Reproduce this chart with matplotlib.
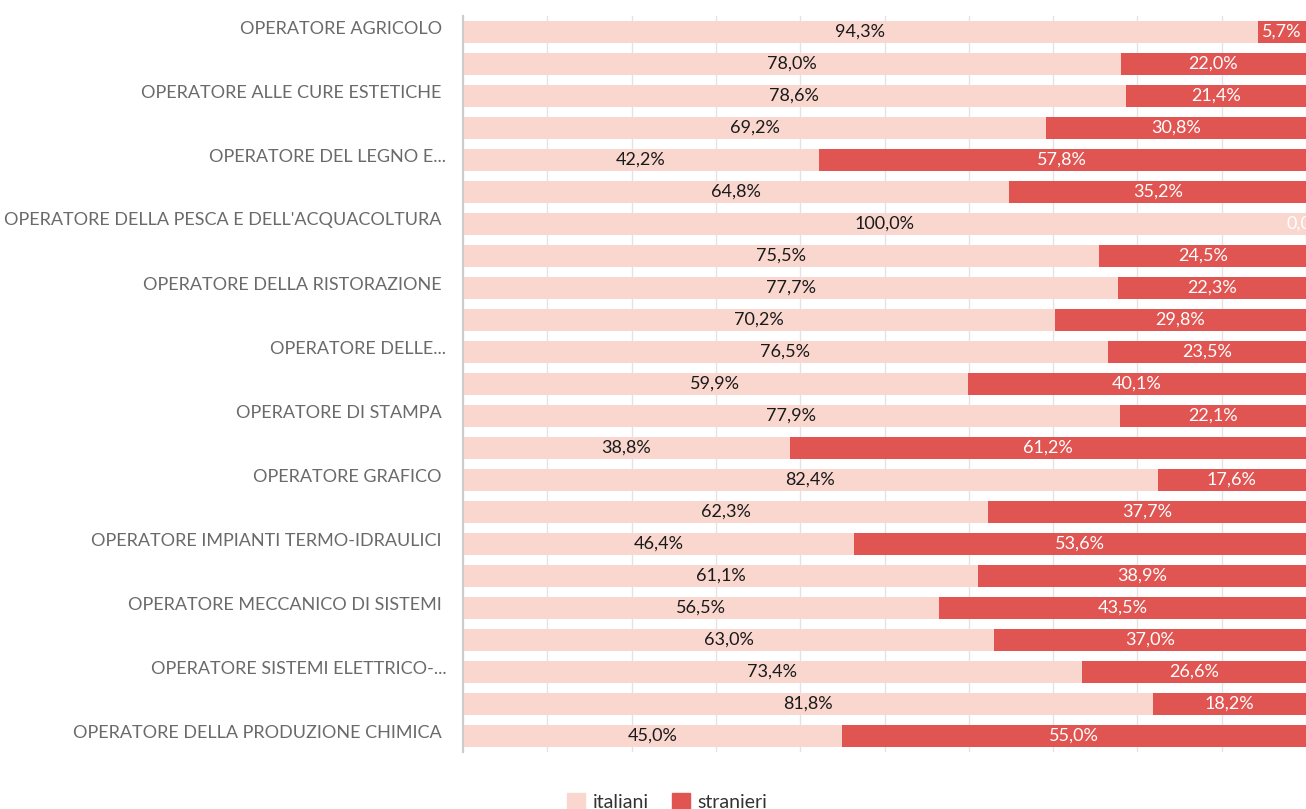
import numpy as np
import matplotlib.pyplot as plt
import matplotlib.transforms as mtransforms
from matplotlib.patches import Patch

# categories (only every other label is visible in the original chart)
categories = [
    "OPERATORE AGRICOLO ", "",
    "OPERATORE ALLE CURE ESTETICHE ", "",
    "OPERATORE DEL LEGNO E...", "",
    "OPERATORE DELLA PESCA E DELL'ACQUACOLTURA ", "",
    "OPERATORE DELLA RISTORAZIONE ", "",
    "OPERATORE DELLE...", "",
    "OPERATORE DI STAMPA ", "",
    "OPERATORE GRAFICO ", "",
    "OPERATORE IMPIANTI TERMO-IDRAULICI ", "",
    "OPERATORE MECCANICO DI SISTEMI ", "",
    "OPERATORE SISTEMI ELETTRICO-...", "",
    "OPERATORE DELLA PRODUZIONE CHIMICA ",
]

italiani = [94.3, 78.0, 78.6, 69.2, 42.2, 64.8, 100.0, 75.5, 77.7, 70.2, 76.5, 59.9,
            77.9, 38.8, 82.4, 62.3, 46.4, 61.1, 56.5, 63.0, 73.4, 81.8, 45.0]
stranieri = [5.7, 22.0, 21.4, 30.8, 57.8, 35.2, 0.0, 24.5, 22.3, 29.8, 23.5, 40.1,
             22.1, 61.2, 17.6, 37.7, 53.6, 38.9, 43.5, 37.0, 26.6, 18.2, 55.0]

series_names = ["italiani", "stranieri"]
col_it = "#F9D7CF"
col_st = "#E05451"

plt.rcParams['font.family'] = ['Lato', 'DejaVu Sans']

fig = plt.figure(figsize=(13.06, 8.09), dpi=100)
ax = fig.add_axes([463 / 1306, 1 - 752 / 809, 843 / 1306, 736 / 809])

y = np.arange(len(categories))
it = np.array(italiani)
st = np.array(stranieri)

ax.barh(y, it, height=0.66, color=col_it, zorder=2)
ax.barh(y, st, left=it, height=0.66, color=col_st, zorder=2)

def fmt(v):
    return ("%.1f%%" % v).replace(".", ",")

for i in range(len(y)):
    ax.text(it[i] / 2, y[i], fmt(it[i]), ha="center", va="center",
            fontsize=13, color="#1a1a1a", zorder=3)
    ax.text(it[i] + st[i] / 2, y[i], fmt(st[i]), ha="center", va="center",
            fontsize=13, color="white", zorder=3, clip_on=True)

ax.set_xlim(0, 100)
ax.set_ylim(len(categories) - 0.5, -0.5)
ax.set_xticks(np.arange(0, 101, 10))
ax.set_xticklabels([])
ax.tick_params(axis="x", length=0)
ax.grid(axis="x", color="#e3e3e3", linewidth=1, zorder=0)

ax.set_yticks(y)
ax.set_yticklabels(categories, fontsize=13, color="#6a6a6a")
ax.tick_params(axis="y", length=0, pad=12)
offset = mtransforms.ScaledTranslation(0, 5 / 100, fig.dpi_scale_trans)
for lbl in ax.get_yticklabels():
    lbl.set_transform(lbl.get_transform() + offset)

for s in ["top", "right", "bottom"]:
    ax.spines[s].set_visible(False)
ax.spines["left"].set_color("#cccccc")
ax.spines["left"].set_linewidth(1.5)

handles = [Patch(color=col_it), Patch(color=col_st)]
fig.legend(handles, series_names, loc="center", bbox_to_anchor=(0.511, 0.009),
           ncol=2, frameon=False, handlelength=0.9, handleheight=0.9,
           handletextpad=0.4, columnspacing=1.2, prop={"size": 14},
           labelcolor="#333333")

fig.savefig("out.png", dpi=100)
